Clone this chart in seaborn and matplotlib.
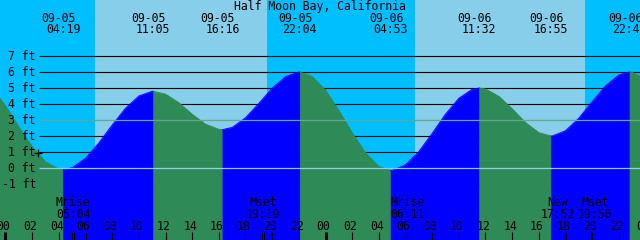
import numpy as np
import pandas as pd
import matplotlib
matplotlib.use("Agg")
import matplotlib.pyplot as plt
import seaborn as sns

title = "Half Moon Bay, California"

hourly_t = list(range(-1, 49))
hourly_ft = [5.01, 3.88, 2.56, 1.33, 0.39, -0.07, 0.02, 0.61, 1.57, 2.69,
             3.74, 4.50, 4.80, 4.62, 4.08, 3.36, 2.74, 2.42, 2.54, 3.14,
             4.04, 4.99, 5.71, 6.00, 5.72, 4.86, 3.59, 2.19, 0.94, 0.10,
             -0.15, 0.20, 1.03, 2.17, 3.37, 4.36, 4.92, 4.94, 4.48, 3.70,
             2.84, 2.21, 2.00, 2.33, 3.12, 4.15, 5.14, 5.82, 5.99, 5.56]

# highs and lows
ext_t = [4.32, 11.08, 16.27, 22.07, 28.88, 35.53, 40.92, 46.80]
ext_ft = [-0.10, 4.80, 2.40, 6.00, -0.15, 5.00, 2.00, 6.00]
ext_date = ["09-05", "09-05", "09-05", "09-05", "09-06", "09-06", "09-06", "09-06"]
ext_time = ["04:19", "11:05", "16:16", "22:04", "04:53", "11:32", "16:55", "22:48"]

# daylight
sunrise = [6.72, 30.72]
sunset = [19.58, 43.47]

# moon events
moon_t = [5.07, 19.32, 30.18, 41.87, 43.83]
moon_name = ["Mrise", "Mset", "Mrise", "New", "Mset"]
moon_time = ["05:04", "19:19", "06:11", "17:52", "19:50"]

# current time marker
now_t = 2.45
now_ft = 0.95

ft_levels = [-1, 0, 1, 2, 3, 4, 5, 6, 7]
hour_ticks = list(range(0, 49, 2))

# layout: pixel grid of the original image
X0 = 5.5          # x pixel of 09-05 00:00
PPH = 40 / 3      # pixels per hour
Y0 = 168          # y pixel of 0 ft
PPF = 16          # pixels per ft


def fx(px):
    return (px - X0) / PPH


def fy(py):
    return (Y0 - py) / PPF


night_c = "#00BFFF"
day_c = "#87CEEB"
pal = {"rise": "#0000FF", "fall": "#2E8B57"}

plt.rcParams["font.family"] = ["DejaVu Sans Mono"]
fs = 8.3

fig = plt.figure(figsize=(6.4, 2.4), dpi=100)
ax = fig.add_axes([0, 0, 1, 1])
x_lo, x_hi = fx(0), fx(640)
ax.set_xlim(x_lo, x_hi)
ax.set_ylim(fy(240), fy(0))
ax.axis("off")

# sky: night then daylight spans
ax.axvspan(x_lo, x_hi, color=night_c, lw=0, zorder=0)
for a, b in zip(sunrise, sunset):
    ax.axvspan(a, b, color=day_c, lw=0, zorder=0)

# black level lines (behind the water)
black_lv = [v for v in ft_levels if v not in (0, 3)]
ax.hlines(black_lv, fx(39), x_hi, color="black", lw=0.8, zorder=1)

# tide curve split at each high / low
pts = pd.DataFrame({"hour": hourly_t + ext_t, "ft": hourly_ft + ext_ft})
pts = pts.sort_values("hour").drop_duplicates("hour")
edges = [-np.inf] + ext_t + [np.inf]
parts = []
for i in range(len(edges) - 1):
    s = pts[(pts.hour >= edges[i]) & (pts.hour <= edges[i + 1])].copy()
    s["seg"] = i
    s["phase"] = "rise" if s.ft.iloc[-1] > s.ft.iloc[0] else "fall"
    parts.append(s)
df = pd.concat(parts, ignore_index=True)

for seg, s in df.groupby("seg"):
    c = pal[s.phase.iloc[0]]
    ax.fill_between(s.hour, s.ft, fy(240), color=c, lw=0.4, edgecolor=c, zorder=2)
sns.lineplot(data=df, x="hour", y="ft", hue="phase", units="seg", estimator=None,
             palette=pal, legend=False, lw=0.6, sort=False, ax=ax, zorder=2)

# mean level and datum lines on top
ax.hlines(3, fx(39), x_hi, color="#62A98F", lw=0.9, zorder=3)
ax.hlines(0, fx(39), x_hi, color="#8FD0EC", lw=0.9, zorder=3)

# y labels
for v in ft_levels:
    ax.text(fx(36), v, f"{v} ft", ha="right", va="center", fontsize=fs, zorder=5)

# title and high/low labels
ax.text(fx(320), fy(10), title, ha="center", va="baseline", fontsize=fs, zorder=5)
for t, d, tm in zip(ext_t, ext_date, ext_time):
    ax.text(t - 4.5 / PPH, fy(21.5), d, ha="center", va="baseline", fontsize=fs, zorder=5)
    ax.text(t, fy(33), tm, ha="center", va="baseline", fontsize=fs, zorder=5)

# moon labels
moon_dx = [0, 0, 0, -6, 5]
for t, n, tm, dx in zip(moon_t, moon_name, moon_time, moon_dx):
    ax.text(t + dx / PPH, fy(206), n, ha="center", va="baseline", fontsize=fs, zorder=5)
    ax.text(t + dx / PPH, fy(218), tm, ha="center", va="baseline", fontsize=fs, zorder=5)

# hour ticks and labels
for h in hour_ticks:
    ax.text(h - 2 / PPH, fy(229.5), f"{h % 24:02d}", ha="center", va="baseline",
            fontsize=fs, zorder=5)
minor = [h for h in hour_ticks if h % 24]
ax.vlines(minor, fy(232), fy(240), color="black", lw=0.8, zorder=5)
ax.vlines([h for h in hour_ticks if h % 24 == 0], fy(232), fy(240),
          color="black", lw=2.2, zorder=5)
dbl = [t + d / PPH for t in moon_t for d in (-1, 1)]
ax.vlines(dbl, fy(232), fy(240), color="black", lw=0.7, zorder=5)

# now marker
ax.plot([now_t], [now_ft], marker="+", ms=6, mew=0.9, color="black", zorder=6)

fig.savefig("out.png", dpi=100)
